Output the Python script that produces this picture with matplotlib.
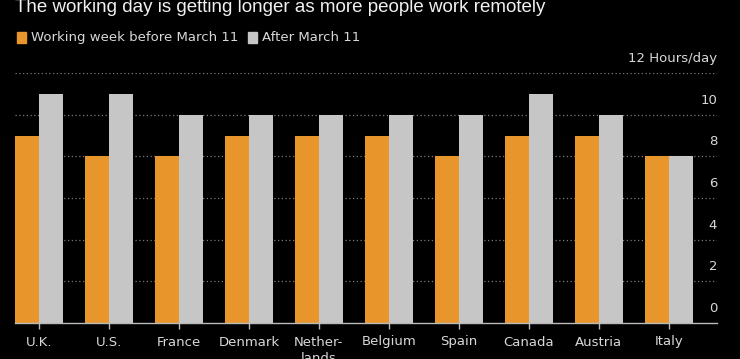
import matplotlib
matplotlib.use("Agg")
import matplotlib.pyplot as plt
import numpy as np
from matplotlib.patches import Rectangle

countries = ["U.K.", "U.S.", "France", "Denmark", "Nether-\nlands", "Belgium",
             "Spain", "Canada", "Austria", "Italy"]
before = [9, 8, 8, 9, 9, 9, 8, 9, 9, 8]
after = [11, 11, 10, 10, 10, 10, 10, 11, 10, 8]
yticks = [0, 2, 4, 6, 8, 10, 12]
series_names = ["Working week before March 11", "After March 11"]

ORANGE = "#E8962B"
GREY = "#C6C6C6"
TEXT = "#D8D8D8"

fig = plt.figure(figsize=(7.4, 3.59), dpi=100, facecolor="black")
ax = fig.add_axes([15/740, (359-323)/359, (717-15)/740, (323-73)/359])
ax.set_facecolor("black")

x = np.arange(len(countries))
w = 0.343
ax.bar(x - w/2, before, width=w, color=ORANGE, zorder=3)
ax.bar(x + w/2, after, width=w, color=GREY, zorder=3)

ax.set_xlim(-0.343, 9.69)
ax.set_ylim(0, 12)

for t in yticks[1:]:
    ax.axhline(t, color="#7a7a7a", lw=0.9, ls=(0, (1, 2)), zorder=1)
for t in yticks:
    lab = "12 Hours/day" if t == 12 else str(t)
    ax.text(1.0, t + 0.38, lab, transform=ax.get_yaxis_transform(),
            ha="right", va="bottom", color=TEXT, fontsize=9.5,
            family="DejaVu Sans")

ax.set_yticks([])
ax.set_xticks(x)
ax.set_xticklabels(countries, color=TEXT, fontsize=9.5, va="top", linespacing=1.35)
ax.tick_params(axis="x", colors="#bbbbbb", length=4, width=1, pad=5, labelcolor=TEXT)
for s in ["top", "right", "left"]:
    ax.spines[s].set_visible(False)
ax.spines["bottom"].set_color("#bbbbbb")
ax.spines["bottom"].set_linewidth(1.0)
ax.spines["bottom"].set_zorder(4)

fig.text(15/740, 1 - 7/359, "The working day is getting longer as more people work remotely",
         color="#F0F0F0", fontsize=13.5, family="Liberation Sans", ha="left", va="center")

# legend
def leg(xpix, color, label):
    fig.patches.append(Rectangle((xpix/740, 1 - 43/359), 9/740, 11/359,
                                 transform=fig.transFigure, color=color, figure=fig))
    fig.text((xpix + 14)/740, 1 - 37.5/359, label, color=TEXT, fontsize=9.5,
             family="DejaVu Sans", ha="left", va="center")

leg(17, ORANGE, series_names[0])
leg(248, GREY, series_names[1])

fig.savefig("out.png", dpi=100, facecolor="black")
